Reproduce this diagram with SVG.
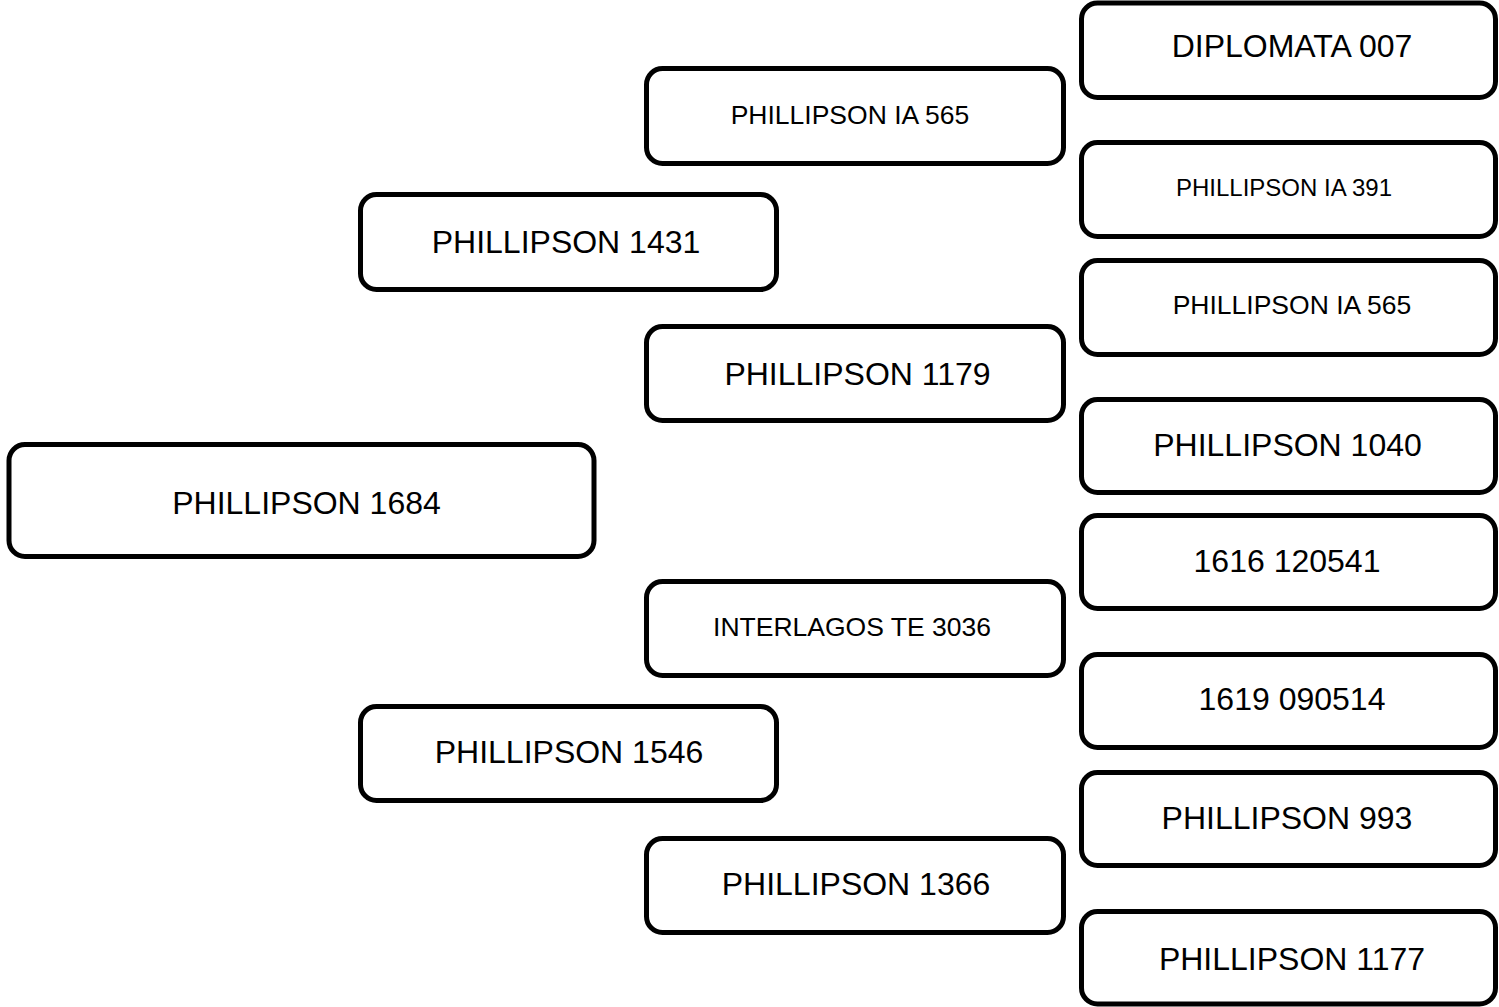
<svg xmlns="http://www.w3.org/2000/svg" width="1499" height="1007" viewBox="0 0 1499 1007">
<style>
.box{fill:#fff;stroke:#000;stroke-width:5}
text{font-family:"Liberation Sans",Arial,sans-serif;fill:#000;text-anchor:middle}
.l{font-size:32px}
.m{font-size:26.5px}
.s{font-size:24px}
</style>
<rect width="1499" height="1007" fill="#fff"/>
<g id="connectors"></g>
<g id="n1684"><rect class="box" x="9" y="444.5" width="585" height="112" rx="16"/><text class="l" x="306.5" y="513.5">PHILLIPSON 1684</text></g>
<g id="n1431"><rect class="box" x="360.5" y="194.5" width="416" height="95" rx="16"/><text class="l" x="566" y="252.5">PHILLIPSON 1431</text></g>
<g id="n1546"><rect class="box" x="360.5" y="706.5" width="416" height="94" rx="16"/><text class="l" x="569" y="762.5">PHILLIPSON 1546</text></g>
<g id="nIA565a"><rect class="box" x="646.5" y="68.5" width="417" height="95" rx="16"/><text class="m" x="850" y="123.5">PHILLIPSON IA 565</text></g>
<g id="n1179"><rect class="box" x="646.5" y="326.5" width="417" height="94" rx="16"/><text class="l" x="857.5" y="384.5">PHILLIPSON 1179</text></g>
<g id="nTE3036"><rect class="box" x="646.5" y="581.5" width="417" height="94" rx="16"/><text class="m" x="852" y="635.5">INTERLAGOS TE 3036</text></g>
<g id="n1366"><rect class="box" x="646.5" y="838.5" width="417" height="94" rx="16"/><text class="l" x="856" y="894.5">PHILLIPSON 1366</text></g>
<g id="nD007"><rect class="box" x="1081.5" y="3" width="414" height="94.5" rx="16"/><text class="l" x="1292" y="57">DIPLOMATA 007</text></g>
<g id="nIA391"><rect class="box" x="1081.5" y="142.5" width="414" height="94" rx="16"/><text class="s" x="1284" y="195.5">PHILLIPSON IA 391</text></g>
<g id="nIA565b"><rect class="box" x="1081.5" y="260.5" width="414" height="94" rx="16"/><text class="m" x="1292" y="313.5">PHILLIPSON IA 565</text></g>
<g id="n1040"><rect class="box" x="1081.5" y="399.5" width="414" height="93" rx="16"/><text class="l" x="1287.5" y="455.5">PHILLIPSON 1040</text></g>
<g id="n1616"><rect class="box" x="1081.5" y="515.5" width="414" height="93" rx="16"/><text class="l" x="1287" y="571.5">1616 120541</text></g>
<g id="n1619"><rect class="box" x="1081.5" y="654.5" width="414" height="93" rx="16"/><text class="l" x="1292" y="709.5">1619 090514</text></g>
<g id="n993"><rect class="box" x="1081.5" y="772.5" width="414" height="93" rx="16"/><text class="l" x="1287" y="828.5">PHILLIPSON 993</text></g>
<g id="n1177"><rect class="box" x="1081.5" y="911.5" width="414" height="92.5" rx="16"/><text class="l" x="1292" y="969.5">PHILLIPSON 1177</text></g>
</svg>
